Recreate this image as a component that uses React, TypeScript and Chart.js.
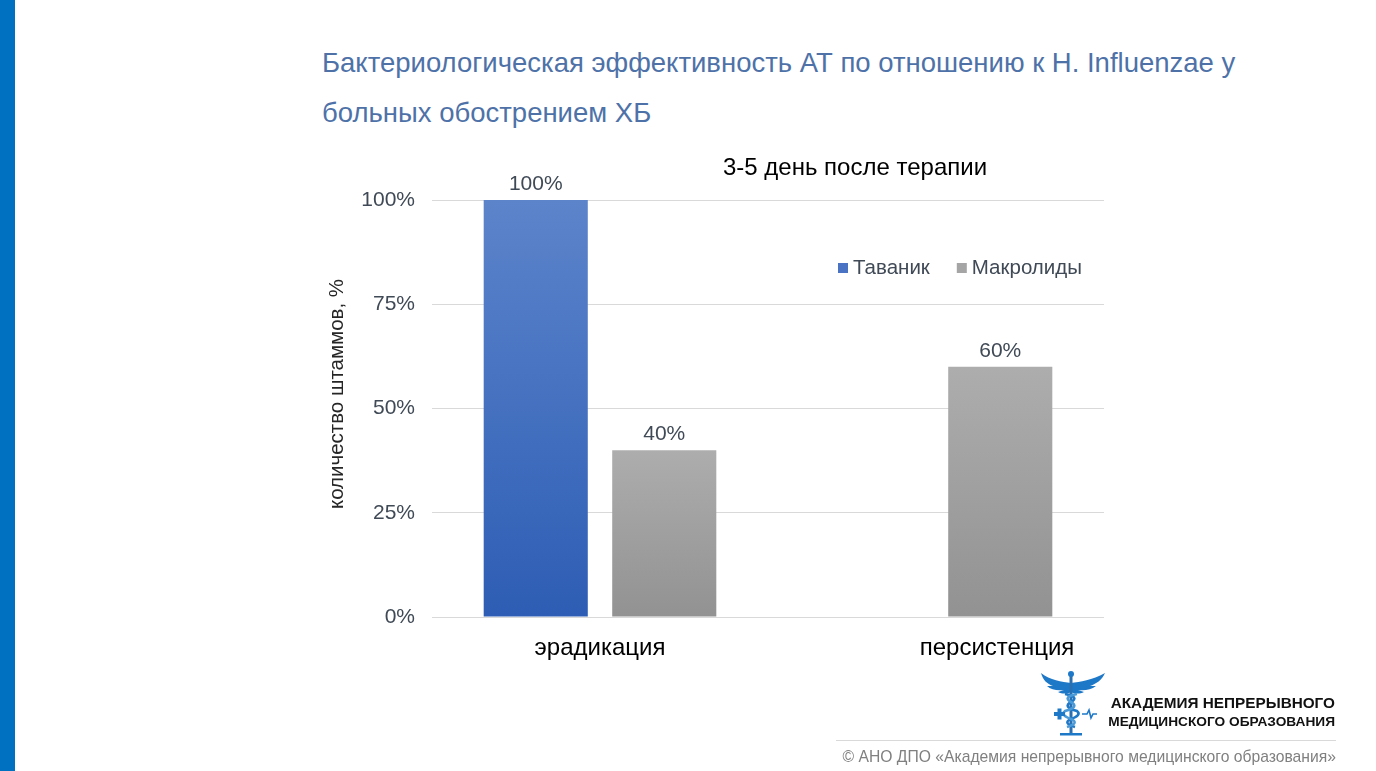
import React, { useEffect, useRef } from "react";
import { Chart, registerables } from "chart.js";

Chart.register(...registerables);

// ---- data ----
const categories = ["эрадикация", "персистенция"];
const seriesNames = ["Таваник", "Макролиды"];
const tavanikValues: (number | null)[] = [100, null];
const macrolideValues: (number | null)[] = [40, 60];
const yTickValues = [0, 25, 50, 75, 100];

const mainTitleLines = [
  "Бактериологическая эффективность АТ по отношению к H. Influenzae у",
  "больных обострением ХБ",
];
const chartTitle = "3-5 день после терапии";
const yAxisTitle = "количество штаммов, %";
const logoLines = ["АКАДЕМИЯ НЕПРЕРЫВНОГО", "МЕДИЦИНСКОГО ОБРАЗОВАНИЯ"];
const footerText = "© АНО ДПО «Академия непрерывного медицинского образования»";

const FONT = "'Liberation Sans', Arial, sans-serif";

function gradientFill(top: string, bottom: string) {
  return (ctx: any) => {
    const chart = ctx.chart;
    const y = chart.scales && chart.scales.y;
    if (!chart.chartArea || !y || ctx.type !== "data" || ctx.raw == null) return bottom;
    const yTop = y.getPixelForValue(ctx.raw);
    const yBot = y.getPixelForValue(0);
    if (!isFinite(yTop) || !isFinite(yBot) || yTop === yBot) return bottom;
    const g = chart.ctx.createLinearGradient(0, yTop, 0, yBot);
    g.addColorStop(0, top);
    g.addColorStop(1, bottom);
    return g;
  };
}

const legendColors = ["#4A73C4", "#A5A5A5"];

const decorPlugin = {
  id: "decor",
  afterDraw(chart: any) {
    const ctx = chart.ctx;
    const opts = chart.options.plugins.decor;
    ctx.save();

    // chart title
    ctx.font = `24px ${FONT}`;
    ctx.fillStyle = "#000000";
    ctx.textAlign = "center";
    ctx.textBaseline = "middle";
    ctx.fillText(opts.title, opts.titleX, opts.titleY);

    // y axis title (rotated)
    ctx.save();
    ctx.translate(opts.yTitleX, opts.yTitleY);
    ctx.rotate(-Math.PI / 2);
    ctx.font = `20.5px ${FONT}`;
    ctx.fillStyle = "#262626";
    ctx.fillText(opts.yTitle, 0, 0);
    ctx.restore();

    // x category labels
    const xs = chart.scales.x;
    ctx.font = `24px ${FONT}`;
    ctx.fillStyle = "#000000";
    chart.data.labels.forEach((lab: string, i: number) => {
      const x = xs.getPixelForValue(i) + (opts.xLabelShift[i] || 0);
      ctx.fillText(lab, x, opts.xLabelY);
    });

    // data labels
    ctx.font = `21px ${FONT}`;
    ctx.fillStyle = "#404A56";
    ctx.textBaseline = "alphabetic";
    chart.data.datasets.forEach((ds: any, di: number) => {
      const meta = chart.getDatasetMeta(di);
      meta.data.forEach((el: any, i: number) => {
        const v = ds.data[i];
        if (v == null) return;
        ctx.fillText(`${v}%`, el.x, el.y - 10);
      });
    });

    // legend
    ctx.font = `20.5px ${FONT}`;
    ctx.textAlign = "left";
    ctx.textBaseline = "middle";
    let lx = opts.legendX;
    const ly = opts.legendY;
    chart.data.datasets.forEach((ds: any, di: number) => {
      ctx.fillStyle = legendColors[di];
      ctx.fillRect(lx, ly - 5, 10, 10);
      ctx.fillStyle = "#404A56";
      ctx.fillText(ds.label, lx + 15, ly);
      lx += 15 + ctx.measureText(ds.label).width + 27;
    });

    ctx.restore();
  },
};

function ChartCanvas() {
  const ref = useRef<HTMLCanvasElement | null>(null);
  useEffect(() => {
    if (!ref.current) return;
    const chart = new Chart(ref.current, {
      type: "bar",
      data: {
        labels: categories,
        datasets: [
          {
            label: seriesNames[0],
            data: tavanikValues,
            backgroundColor: gradientFill("#5C84CB", "#2D5DB4"),
            borderWidth: 0,
          },
          {
            label: seriesNames[1],
            data: macrolideValues,
            backgroundColor: gradientFill("#ADADAD", "#929292"),
            borderWidth: 0,
          },
        ],
      },
      options: {
        responsive: false,
        animation: false,
        devicePixelRatio: 1,
        categoryPercentage: 0.765,
        barPercentage: 0.81,
        layout: { padding: { left: 326, right: 272, top: 200, bottom: 0 } },
        plugins: {
          legend: { display: false },
          title: { display: false },
          tooltip: { enabled: false },
          decor: {
            title: chartTitle,
            titleX: 855,
            titleY: 168,
            yTitle: yAxisTitle,
            yTitleX: 337,
            yTitleY: 394,
            xLabelY: 648,
            xLabelShift: [0, 61],
            legendX: 838,
            legendY: 268,
          },
        } as any,
        scales: {
          x: {
            type: "category",
            grid: { display: false },
            border: { display: false },
            ticks: { display: false },
            afterFit: (s: any) => {
              s.height = 154;
            },
          },
          y: {
            min: 0,
            max: 100,
            afterBuildTicks: (s: any) => {
              s.ticks = yTickValues.map((v) => ({ value: v }));
            },
            afterFit: (s: any) => {
              s.width = 106;
            },
            grid: { color: "#D9D9D9", lineWidth: 1, drawTicks: false },
            border: { display: false },
            ticks: {
              padding: 17,
              color: "#404A56",
              font: { family: FONT, size: 21 },
              callback: (v: any) => `${v}%`,
            },
            title: { display: false },
          },
        },
      },
      plugins: [decorPlugin],
    });
    return () => chart.destroy();
  }, []);
  return (
    <canvas
      ref={ref}
      width={1376}
      height={771}
      style={{ position: "absolute", left: 0, top: 0, width: 1376, height: 771 }}
    />
  );
}

function Logo() {
  const blue = "#1E78C8";
  const light = "#4A9AD8";
  return (
    <svg width="76" height="76" viewBox="0 0 76 76" style={{ position: "absolute", left: 1036, top: 666 }}>
      {/* wings */}
      <path d="M35 17 C26 16 14 14 5 7 C7 14 11 18 17 20 L11 20 C15 24 22 25 28 24 L22 26 C26 28 31 28 35 26 Z" fill={blue} />
      <path d="M35 17 C44 16 56 14 69 7 C66 14 60 18 54 20 L60 20 C55 24 48 25 42 24 L48 26 C44 28 39 28 35 26 Z" fill={blue} />
      {/* staff */}
      <rect x="33.5" y="6" width="3" height="62" fill="#2A6FB0" />
      <circle cx="35" cy="8" r="3" fill={blue} />
      {/* snakes */}
      <path d="M29 28 Q44 31 35 36 Q26 41 41 45 Q46 49 35 53 Q26 57 39 61" stroke={blue} strokeWidth="2.6" fill="none" />
      <path d="M41 28 Q26 31 35 36 Q44 41 29 45 Q24 49 35 53 Q44 57 31 61" stroke={light} strokeWidth="2.6" fill="none" />
      {/* plus */}
      <rect x="18" y="46" width="11" height="4" fill={blue} />
      <rect x="21.5" y="42.5" width="4" height="11" fill={blue} />
      {/* heartbeat */}
      <path d="M46 48 L51 48 L53 44 L55 52 L57 48 L61 48" stroke={blue} strokeWidth="1.6" fill="none" />
      {/* base */}
      <rect x="24" y="67" width="22" height="2.5" fill={blue} />
    </svg>
  );
}

export default function App() {
  return (
    <div
      style={{
        position: "absolute",
        left: 0,
        top: 0,
        width: 1376,
        height: 771,
        background: "#ffffff",
        overflow: "hidden",
        fontFamily: FONT,
      }}
    >
      <div style={{ position: "absolute", left: 0, top: 0, width: 15, height: 771, background: "#0070C0" }} />
      {mainTitleLines.map((t, i) => (
        <div
          key={i}
          style={{
            position: "absolute",
            left: 322,
            top: 38 + i * 50,
            height: 50,
            lineHeight: "50px",
            fontSize: 27.5,
            color: "#4E72A8",
            whiteSpace: "nowrap",
          }}
        >
          {t}
        </div>
      ))}
      <ChartCanvas />
      <Logo />
      {logoLines.map((t, i) => (
        <div
          key={i}
          style={{
            position: "absolute",
            right: 1376 - 1335,
            top: i === 0 ? 693 : 712,
            lineHeight: "20px",
            fontSize: i === 0 ? 15.3 : 13.7,
            fontWeight: 700,
            color: "#111111",
            whiteSpace: "nowrap",
          }}
        >
          {t}
        </div>
      ))}
      <div style={{ position: "absolute", left: 836, top: 740, width: 500, height: 1, background: "#D9D9D9" }} />
      <div
        style={{
          position: "absolute",
          right: 1376 - 1336,
          top: 747,
          lineHeight: "20px",
          fontSize: 15.7,
          color: "#808080",
          whiteSpace: "nowrap",
        }}
      >
        {footerText}
      </div>
    </div>
  );
}
